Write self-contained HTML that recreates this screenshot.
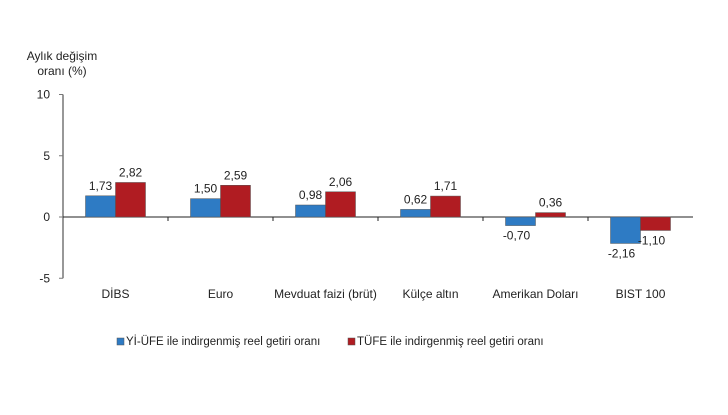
<!DOCTYPE html>
<html><head><meta charset="utf-8"><style>
body{margin:0;background:#fff;}
svg text{font-family:"Liberation Sans",Arial,sans-serif;fill:#222;}
</style></head><body>
<svg id="chart" width="728" height="410" xmlns="http://www.w3.org/2000/svg">
<text x="62" y="60" font-size="12" text-anchor="middle">Aylık değişim</text>
<text x="62" y="75" font-size="12" text-anchor="middle">oranı (%)</text>
<g id="plot"></g>
<g>
<rect x="117" y="338" width="7" height="7" fill="#2e7bc4" stroke="#555" stroke-width="0.5"/>
<text x="126" y="345" font-size="11.5">Yİ-ÜFE ile indirgenmiş reel getiri oranı</text>
<rect x="348" y="338" width="7" height="7" fill="#b01c22" stroke="#555" stroke-width="0.5"/>
<text x="357" y="345" font-size="11.5">TÜFE ile indirgenmiş reel getiri oranı</text>
</g>
</svg>
<script>
const categories=["DİBS","Euro","Mevduat faizi (brüt)","Külçe altın","Amerikan Doları","BIST 100"];
const yiufe=[1.73,1.50,0.98,0.62,-0.70,-2.16];
const tufe=[2.82,2.59,2.06,1.71,0.36,-1.10];
const yTicks=[10,5,0,-5];
const NS="http://www.w3.org/2000/svg";
const g=document.getElementById('plot');
const x0=63,catW=105,y0=217,pxPerUnit=12.25,barW=30;
const yScale=v=>y0-v*pxPerUnit;
function mk(tag,attrs){const e=document.createElementNS(NS,tag);for(const k in attrs)e.setAttribute(k,attrs[k]);g.appendChild(e);return e;}
const fmt=v=>v.toFixed(2).replace('.',',');
// y axis
let ax=mk('line',{x1:x0,y1:yScale(10),x2:x0,y2:yScale(-5),stroke:'#777','stroke-width':1.5});


yTicks.forEach(t=>{
 const tk=mk('line',{x1:x0-4,x2:x0,y1:yScale(t),y2:yScale(t),stroke:'#777'});
 
 
 const tl=mk('text',{x:x0-13,y:yScale(t)+4,'font-size':12,'text-anchor':'end'});
 tl.textContent=t;
 
 
});
// x axis
let xa=mk('line',{x1:x0,y1:y0,x2:x0+catW*categories.length,y2:y0,stroke:'#222','stroke-width':1});


categories.forEach((c,i)=>{
 const cx=x0+catW*(i+0.5);
 if(i<categories.length-1){const tk=mk('line',{x1:x0+catW*(i+1),x2:x0+catW*(i+1),y1:y0,y2:y0+4,stroke:'#222'});
 
 }
 const lab=mk('text',{x:cx,y:298,'font-size':12,'text-anchor':'middle'});
 lab.textContent=c;
 
 
 [[yiufe[i],'#2e7bc4',cx-barW,'bar-yiufe'],[tufe[i],'#b01c22',cx,'bar-tufe']].forEach(([v,col,bx,nm])=>{
  const top=Math.min(yScale(v),y0),h=Math.abs(yScale(v)-y0);
  const r=mk('rect',{x:bx,y:top,width:barW,height:h,fill:col,stroke:'#555','stroke-width':0.5});
  
  
  const ly=v>=0?yScale(v)-6:yScale(v)+14;
  const t=mk('text',{x:bx+barW/2+(v<0?-4:0),y:ly,'font-size':12,'text-anchor':'middle'});
  t.textContent=fmt(v);
  
  
 });
});
</script>
</body></html>
